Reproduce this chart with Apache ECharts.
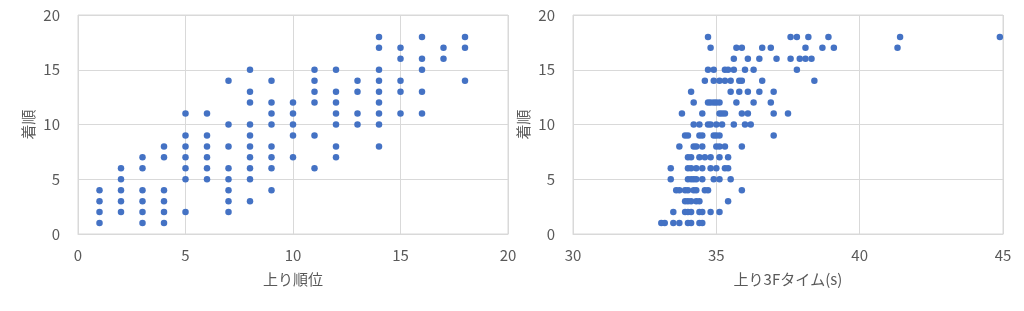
<!DOCTYPE html>
<html><head><meta charset="utf-8">
<script src="https://cdn.jsdelivr.net/npm/echarts@6/dist/echarts.min.js"></script>
<style>html,body{margin:0;padding:0;background:#fff}#c{width:1024px;height:311px}</style>
</head><body><div id="c"></div>
<script>
// Left chart: 上り順位 (x) vs 着順 (y)
const leftX = [1,1,1,1, 2,2,2,2,2, 3,3,3,3,3,3, 4,4,4,4,4,4,
  5,5,5,5,5,5,5, 6,6,6,6,6,6, 7,7,7,7,7,7,7,7,
  8,8,8,8,8,8,8,8,8,8, 9,9,9,9,9,9,9,9, 10,10,10,10,10,
  11,11,11,11,11,11, 12,12,12,12,12,12,12, 13,13,13,13,
  14,14,14,14,14,14,14,14,14, 15,15,15,15,15, 16,16,16,16,16, 17,17, 18,18,18];
const leftY = [4,3,2,1, 6,5,4,3,2, 7,6,4,3,2,1, 8,7,4,3,2,1,
  11,9,8,7,6,5,2, 11,9,8,7,6,5, 14,10,8,6,5,4,3,2,
  15,13,12,10,9,8,7,6,5,3, 14,12,11,10,8,7,6,4, 12,11,10,9,7,
  15,14,13,12,9,6, 15,13,12,11,10,8,7, 14,13,11,10,
  18,17,15,14,13,12,11,10,8, 17,16,14,13,11, 18,16,15,13,11, 17,16, 18,17,14];

// Right chart: 上り3Fタイム(s) grouped by 着順
const time18 = [34.71, 37.59, 37.81, 38.21, 38.91, 41.41, 44.89];
const time17 = [34.80, 35.70, 35.89, 36.60, 36.90, 38.11, 38.70, 39.10, 41.32];
const time16 = [35.61, 36.10, 36.50, 37.10, 37.59, 37.91, 38.11, 38.32];
const time15 = [34.71, 34.91, 35.30, 35.41, 35.61, 36.00, 36.30, 37.81];
const time14 = [34.60, 34.91, 35.11, 35.30, 35.50, 35.80, 35.89, 36.60, 38.42];
const time13 = [34.12, 35.50, 35.80, 36.10, 36.50, 37.00];
const time12 = [34.21, 34.71, 34.80, 34.91, 35.00, 35.11, 35.70, 36.30, 36.90];
const time11 = [33.80, 34.51, 35.11, 35.20, 35.30, 35.89, 36.10, 37.00, 37.50];
const time10 = [34.21, 34.41, 34.71, 34.80, 35.00, 35.20, 35.61, 36.00, 36.20];
const time9 = [33.91, 34.01, 34.41, 34.51, 34.91, 35.00, 35.11, 37.00];
const time8 = [33.71, 34.21, 34.30, 34.51, 35.00, 35.11, 35.30, 35.89];
const time7 = [34.01, 34.12, 34.41, 34.60, 34.80, 35.11, 35.41];
const time6 = [33.41, 34.01, 34.12, 34.30, 34.51, 34.80, 35.00, 35.30, 35.41];
const time5 = [33.41, 34.01, 34.12, 34.21, 34.30, 34.51, 34.91, 35.11, 35.50];
const time4 = [33.60, 33.71, 33.91, 34.01, 34.21, 34.30, 34.60, 34.71, 35.89];
const time3 = [33.91, 34.01, 34.12, 34.30, 34.41, 35.41];
const time2 = [33.50, 33.91, 34.01, 34.12, 34.41, 34.51, 34.80, 35.11];
const time1 = [33.08, 33.20, 33.50, 33.71, 34.01, 34.12, 34.41, 34.51];
const rightRanks = [18,17,16,15,14,13,12,11,10,9,8,7,6,5,4,3,2,1];
const rightTimes = [time18,time17,time16,time15,time14,time13,time12,time11,time10,time9,time8,time7,time6,time5,time4,time3,time2,time1];

const yTicks = [0,5,10,15,20];
const leftXTicks = [0,5,10,15,20];
const rightXTicks = [30,35,40,45];

const leftData = leftX.map((x,i)=>[x,leftY[i]]);
const rightData = [];
rightRanks.forEach((r,i)=>rightTimes[i].forEach(t=>rightData.push([t,r])));

const font = '"Noto Sans CJK JP", "Noto Sans", sans-serif';
const gray = '#595959';
const gridLine = '#d9d9d9';

function xAxis(idx, ticks, name) {
  return {
    type:'value', gridIndex:idx, min:ticks[0], max:ticks[ticks.length-1], interval:5,
    name:name, nameLocation:'middle', nameGap:38,
    nameTextStyle:{color:gray, fontSize:15, fontFamily:font},
    axisLine:{show:true, lineStyle:{color:gridLine}},
    axisTick:{show:false},
    axisLabel:{color:gray, fontSize:15, fontFamily:font, margin:14},
    splitLine:{show:true, lineStyle:{color:gridLine, width:1}}
  };
}
function yAxis(idx) {
  return {
    type:'value', gridIndex:idx, min:yTicks[0], max:yTicks[yTicks.length-1], interval:5,
    name:'着順', nameLocation:'middle', nameGap:42, nameRotate:90,
    nameTextStyle:{color:gray, fontSize:15, fontFamily:font},
    axisLine:{show:false}, axisTick:{show:false},
    axisLabel:{color:gray, fontSize:15, fontFamily:font, margin:18},
    splitLine:{show:true, lineStyle:{color:gridLine, width:1}}
  };
}

const chart = echarts.init(document.getElementById('c'), null, {renderer:'canvas'});
chart.setOption({
  animation:false,
  backgroundColor:'#fff',
  grid:[
    {left:78, top:15, width:430, height:219, show:true, borderColor:gridLine, borderWidth:1},
    {left:573, top:15, width:430, height:219, show:true, borderColor:gridLine, borderWidth:1}
  ],
  xAxis:[xAxis(0,leftXTicks,'上り順位'), xAxis(1,rightXTicks,'上り3Fタイム(s)')],
  yAxis:[yAxis(0), yAxis(1)],
  series:[
    {type:'scatter', xAxisIndex:0, yAxisIndex:0, data:leftData, symbolSize:6.5,
     itemStyle:{color:'#4472C4', opacity:1}},
    {type:'scatter', xAxisIndex:1, yAxisIndex:1, data:rightData, symbolSize:6.5,
     itemStyle:{color:'#4472C4', opacity:1}}
  ]
});
</script></body></html>
